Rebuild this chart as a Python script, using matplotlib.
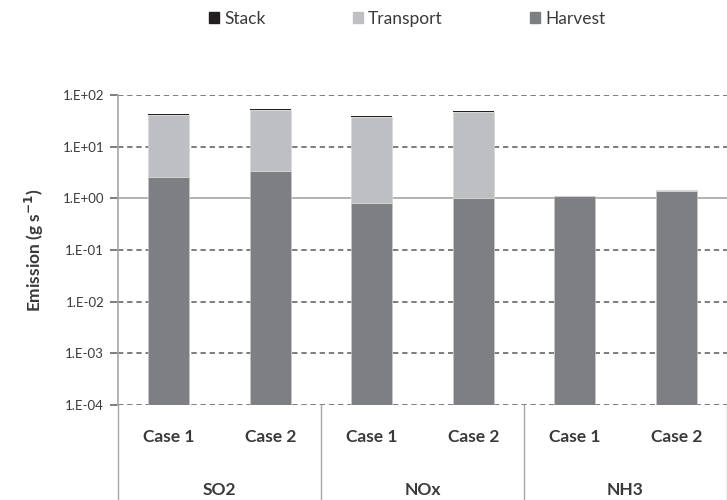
import matplotlib
matplotlib.use("Agg")
import matplotlib.pyplot as plt
import matplotlib.transforms as mtransforms
from matplotlib.patches import Patch
import numpy as np

plt.rcParams['font.family'] = ['Lato', 'DejaVu Sans']

groups = ["SO2", "NOx", "NH3"]
cases = ["Case 1", "Case 2"]
harvest = [2.55, 3.4, 0.83, 1.0, 1.1, 1.4]
transport = [39.0, 48.5, 36.5, 46.0, 0.02, 0.03]
stack = [2.0, 2.5, 1.7, 2.0, 0.01, 0.01]
ytick_vals = [1e-4, 1e-3, 1e-2, 1e-1, 1e0, 1e1, 1e2]
ytick_labels = ["1.E-04", "1.E-03", "1.E-02", "1.E-01", "1.E+00", "1.E+01", "1.E+02"]

c_harvest = "#7e7f83"
c_transport = "#bebfc2"
c_stack = "#231f20"
grid_c = "#5a5a5a"
text_c = "#3a3a3a"

fig = plt.figure(figsize=(7.27, 5.0), dpi=100)
ax = fig.add_axes([118/727, 1-405/500, 1-118/727, (405-95)/500])

base = 1e-4
n = len(harvest)
x = np.arange(n) + 0.5
h = np.array(harvest)
t = np.array(transport)
s = np.array(stack)

ax.set_yscale('log')
ax.set_ylim(1e-4, 1e2)
ax.set_xlim(0, n)

# gridlines
for v in ytick_vals:
    if v == 1e0:
        ax.axhline(v, color="#a6a6a6", lw=1.2, zorder=1)
    else:
        ax.axhline(v, color=grid_c, lw=1.1, ls=(0, (3.5, 2.5)), zorder=1)

w = 0.4
ax.bar(x, h - base, bottom=base, width=w, color=c_harvest, edgecolor="#c8c8c8", lw=0.5, zorder=2)
ax.bar(x, t, bottom=h, width=w, color=c_transport, edgecolor="#d8d8d8", lw=0.5, zorder=2)
ax.bar(x, s, bottom=h + t, width=w, color=c_stack, lw=0, zorder=2)

ax.set_yticks(ytick_vals)
ax.set_yticklabels(ytick_labels)
ax.yaxis.set_minor_locator(matplotlib.ticker.NullLocator())
ax.tick_params(axis='y', which='major', length=6, width=1.1, color=grid_c,
               labelsize=9.5, labelcolor=text_c, pad=4)
ax.set_xticks([])
for sp in ['top', 'right', 'bottom']:
    ax.spines[sp].set_visible(False)
ax.spines['left'].set_color("#a6a6a6")
ax.spines['left'].set_linewidth(1.2)

ax.set_ylabel(r"Emission (g s$^{\mathbf{-1}}$)", fontsize=12.5, fontweight='bold',
              color=text_c, labelpad=12)

# category axis labels below
trans = mtransforms.blended_transform_factory(ax.transData, ax.transAxes)
axh = 310.0
for i in range(n):
    ax.text(x[i], -(437-405)/axh, cases[i % 2], transform=trans, ha='center', va='center',
            fontsize=12.5, fontweight='bold', color=text_c)
for g, name in enumerate(groups):
    ax.text(2*g + 1, -(490-405)/axh, name, transform=trans, ha='center', va='center',
            fontsize=12.5, fontweight='bold', color=text_c)
for sx in [0, 2, 4, 6]:
    ax.plot([sx, sx], [0, -95/axh], transform=trans, color="#a6a6a6", lw=1.0, clip_on=False)

handles = [Patch(color=c_stack), Patch(color=c_transport), Patch(color=c_harvest)]
fig.legend(handles, ["Stack", "Transport", "Harvest"], ncol=3, loc='center',
           bbox_to_anchor=(0.56, 0.962), frameon=False, fontsize=12.5,
           handlelength=0.6, handleheight=0.6, handletextpad=0.3,
           columnspacing=5.0, labelcolor=text_c)

fig.savefig("out.png", dpi=100)
